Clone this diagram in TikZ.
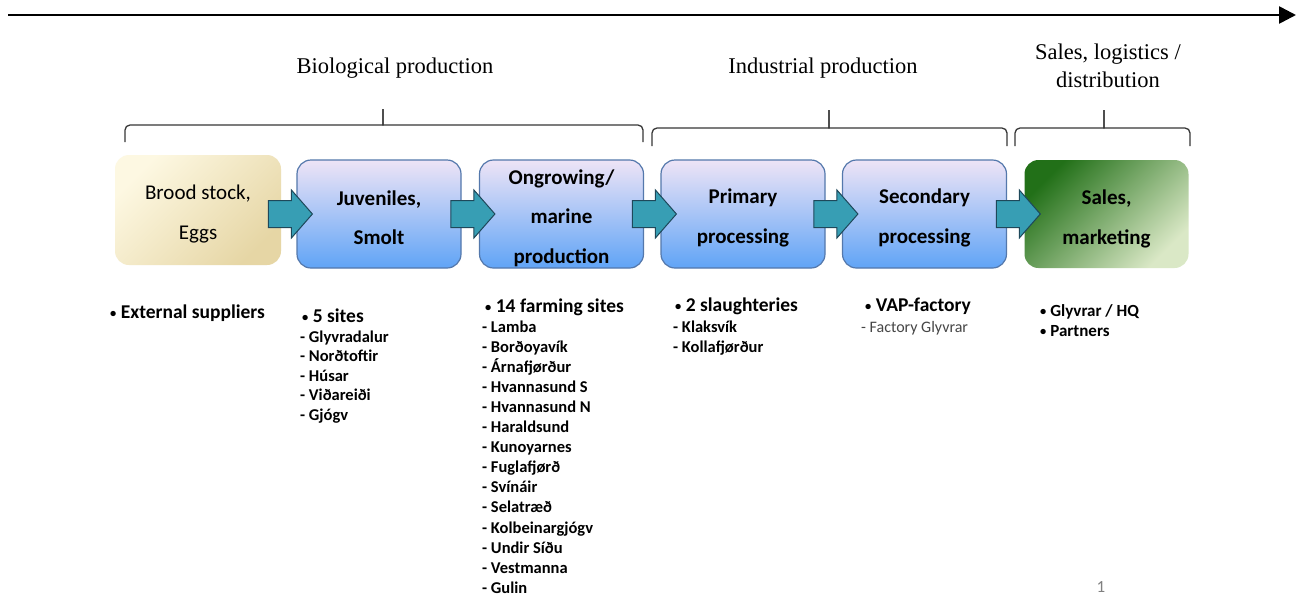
\documentclass[tikz,border=0pt]{standalone}
\usepackage{fontspec}
\setmainfont{Carlito}
\newfontfamily\serifhead{Liberation Serif}
\usetikzlibrary{arrows.meta,calc}
\definecolor{boxborder}{RGB}{84,120,172}
\definecolor{bluetop}{RGB}{238,228,246}
\definecolor{bluebot}{RGB}{96,164,246}
\definecolor{arrowfill}{RGB}{55,158,180}
\definecolor{arrowline}{RGB}{30,72,90}
\definecolor{yellowtl}{RGB}{253,248,226}
\definecolor{yellowbr}{RGB}{230,214,165}
\definecolor{greentl}{RGB}{34,112,24}
\definecolor{greenbr}{RGB}{218,232,198}
\definecolor{bracecol}{RGB}{55,55,55}
\definecolor{subgray}{RGB}{70,70,70}
\newcommand\mybul{\raisebox{1pt}{\fontsize{12.5}{13}\selectfont •}}
\begin{document}
\begin{tikzpicture}[x=1pt,y=-1pt,
  stage/.style={rectangle, rounded corners=14pt, minimum width=164pt, minimum height=108pt, inner sep=0pt},
  stagetext/.style={align=center, inner sep=0pt, font=\fontsize{21}{39.5}\selectfont\bfseries},
  bluebox/.style={stage, draw=boxborder, line width=1.2pt, top color=bluetop, bottom color=bluebot},
  blockarrow/.style={fill=arrowfill, draw=arrowline, line width=1pt, line join=miter},
  bracestyle/.style={draw=bracecol, line width=1.3pt},
  phase/.style={font=\serifhead\fontsize{22.5}{28}\selectfont, align=center, inner sep=0pt},
  headitem/.style={anchor=base west, inner sep=0pt, font=\fontsize{19.5}{22}\selectfont\bfseries},
  subitem/.style={anchor=base west, inner sep=0pt, font=\fontsize{16.5}{20}\selectfont\bfseries},
  smallitem/.style={anchor=base west, inner sep=0pt, font=\fontsize{17}{20}\selectfont\bfseries}
]
\fill[white] (0,0) rectangle (1298,595);
\useasboundingbox (0,0) rectangle (1298,595);

% timeline arrow
\coordinate (tl) at (8,15);
\coordinate (tr) at (1296,15);
\draw[line width=2.6pt, -{Triangle[length=17pt,width=17pt]}] (tl) -- (tr);

% phase labels
\node[phase] (bio) at (395,68) {Biological production};
\node[phase] (ind) at (823,68) {Industrial production};
\node[phase] (sal) at (1108,66) {Sales, logistics /\\ distribution};

% braces
\draw[bracestyle] (125,142) [rounded corners=5pt] -- (125,125) -- (378,125) [sharp corners] .. controls (383,125) .. (383,109);
\draw[bracestyle] (643,142) [rounded corners=5pt] -- (643,125) -- (388,125) [sharp corners] .. controls (383,125) .. (383,109);
\draw[bracestyle] (652,146) [rounded corners=5pt] -- (652,128) -- (824,128) [sharp corners] .. controls (829,128) .. (829,110);
\draw[bracestyle] (1007,146) [rounded corners=5pt] -- (1007,128) -- (834,128) [sharp corners] .. controls (829,128) .. (829,110);
\draw[bracestyle] (1015,146) [rounded corners=5pt] -- (1015,128) -- (1099,128) [sharp corners] .. controls (1104,128) .. (1104,110);
\draw[bracestyle] (1190,146) [rounded corners=5pt] -- (1190,128) -- (1109,128) [sharp corners] .. controls (1104,128) .. (1104,110);

% stage boxes
\node[stage, top color=yellowtl, bottom color=yellowbr, shading angle=45,
      minimum width=166pt, minimum height=110pt] (b1) at (198,210) {};
\node[bluebox] (b2) at (379,214) {};
\node[bluebox] (b3) at (561.5,214) {};
\node[bluebox] (b4) at (743,214) {};
\node[bluebox] (b5) at (924.5,214) {};
\node[stage, top color=greentl, bottom color=greenbr, shading angle=45] (b6) at (1106.5,214) {};

\node[stagetext, font=\fontsize{21}{39.5}\selectfont] (t1) at ($(b1)+(0,4)$) {Brood stock,\\Eggs};
\node[stagetext] (t2) at ($(b2)+(0,3.5)$) {Juveniles,\\Smolt};
\node[stagetext] (t3) at ($(b3)+(0,4)$) {Ongrowing/\\marine\\production};
\node[stagetext] (t4) at ($(b4)+(0,4)$) {Primary\\processing};
\node[stagetext] (t5) at ($(b5)+(0,4)$) {Secondary\\processing};
\node[stagetext] (t6) at ($(b6)+(0,5)$) {Sales,\\marketing};

% block arrows
\foreach \a/\b in {b1/b2,b2/b3,b3/b4,b4/b5,b5/b6}{
  \draw[blockarrow] ($(\b.west)+(-28,-13.5)$) -- ($(\b.west)+(-5,-13.5)$) -- ($(\b.west)+(-5,-24)$)
    -- ($(\b.west)+(16,0)$) -- ($(\b.west)+(-5,24)$) -- ($(\b.west)+(-5,13.5)$)
    -- ($(\b.west)+(-28,13.5)$) -- cycle;
}

% lists
\node[headitem] (ext) at (110,318) {\mybul\ External suppliers};

\node[headitem] (s5) at (302,322) {\mybul\ 5 sites};
\foreach \t [count=\i from 0] in {Glyvradalur,Norðtoftir,Húsar,Viðareiði,Gjógv}
  \node[subitem] (sa\i) at (300,{342+19.6*\i}) {- \t};

\node[headitem] (f14) at (485,312) {\mybul\ 14 farming sites};
\foreach \t [count=\i from 0] in {Lamba,Borðoyavík,Árnafjørður,Hvannasund S,Hvannasund N,Haraldsund,Kunoyarnes,Fuglafjørð,Svínáir,Selatræð,Kolbeinargjógv,Undir Síðu,Vestmanna,Gulin}
  \node[subitem] (fa\i) at (482,{332+20.1*\i}) {- \t};

\node[headitem] (sl) at (675,311) {\mybul\ 2 slaughteries};
\node[subitem] (sl1) at (673,332) {- Klaksvík};
\node[subitem] (sl2) at (673,352) {- Kollafjørður};

\node[headitem] (vap) at (865,311) {\mybul\ VAP-factory};
\node[anchor=base west, inner sep=0pt, font=\fontsize{16}{20}\selectfont, text=subgray] (vap1) at (861,332) {- Factory Glyvrar};

\node[smallitem] (hq) at (1040,316) {\mybul\ Glyvrar / HQ};
\node[smallitem] (pa) at (1040,336) {\mybul\ Partners};

\node[font=\fontsize{17}{20}\selectfont, text=gray, inner sep=0pt] (pg) at (1101,587) {1};
\end{tikzpicture}
\end{document}
